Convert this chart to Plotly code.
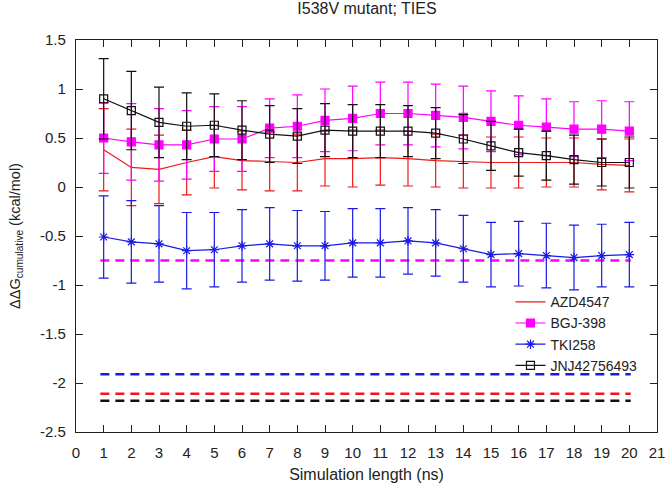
import plotly.graph_objects as go

# simulation length (ns)
ns = list(range(1, 21))

azd4547 = [0.38, 0.20, 0.18, 0.25, 0.31, 0.27, 0.26, 0.25, 0.29, 0.29,
           0.30, 0.29, 0.27, 0.26, 0.25, 0.25, 0.25, 0.25, 0.23, 0.22]
azd4547_err = [0.42, 0.39, 0.35, 0.33, 0.32, 0.30, 0.30, 0.29, 0.28, 0.29,
               0.28, 0.28, 0.27, 0.27, 0.26, 0.26, 0.25, 0.25, 0.26, 0.27]

bgj398 = [0.50, 0.46, 0.43, 0.43, 0.49, 0.49, 0.60, 0.62, 0.68, 0.70,
          0.75, 0.75, 0.73, 0.71, 0.67, 0.63, 0.61, 0.59, 0.59, 0.57]
bgj398_err = [0.36, 0.39, 0.37, 0.35, 0.33, 0.33, 0.30, 0.32, 0.32, 0.33,
              0.32, 0.32, 0.32, 0.32, 0.31, 0.30, 0.29, 0.28, 0.29, 0.30]

tki258 = [-0.51, -0.56, -0.58, -0.65, -0.64, -0.60, -0.58, -0.60, -0.60, -0.57,
          -0.57, -0.55, -0.57, -0.63, -0.69, -0.68, -0.70, -0.72, -0.70, -0.69]
tki258_err = [0.42, 0.42, 0.39, 0.39, 0.38, 0.37, 0.37, 0.36, 0.35, 0.35,
              0.35, 0.34, 0.34, 0.34, 0.33, 0.33, 0.33, 0.33, 0.32, 0.33]

jnj42756493 = [0.90, 0.78, 0.66, 0.62, 0.63, 0.58, 0.54, 0.52, 0.58, 0.57,
               0.57, 0.57, 0.55, 0.49, 0.42, 0.35, 0.32, 0.28, 0.25, 0.25]
jnj42756493_err = [0.41, 0.40, 0.36, 0.34, 0.32, 0.30, 0.29, 0.28, 0.27, 0.27,
                   0.27, 0.26, 0.26, 0.25, 0.25, 0.24, 0.25, 0.25, 0.24, 0.26]

# reference (dashed) levels
ref_x = [0.88, 20.05]
ref_bgj398 = -0.75
ref_tki258 = -1.91
ref_azd4547 = -2.11
ref_jnj42756493 = -2.18

yticks = [1.5, 1, 0.5, 0, -0.5, -1, -1.5, -2, -2.5]
yticklabels = ["1.5", "1", "0.5", "0", "-0.5", "-1", "-1.5", "-2", "-2.5"]

RED = "#f01818"
PINK = "#ff00ff"
BLUE = "#1a1ae6"
BLACK = "#111111"
FONT = "Liberation Sans, Arial"

fig = go.Figure()

# dashed reference lines first (behind)
for lvl, col in [(ref_bgj398, PINK), (ref_tki258, BLUE),
                 (ref_azd4547, RED), (ref_jnj42756493, BLACK)]:
    fig.add_trace(go.Scatter(x=ref_x, y=[lvl, lvl], mode="lines", showlegend=False,
                             line=dict(color=col, width=2.5, dash="9px,6px"),
                             hoverinfo="skip"))

def add_series(y, err, name, col, symbol=None):
    fig.add_trace(go.Scatter(
        x=ns, y=y, name=name,
        mode="lines+markers" if symbol else "lines",
        line=dict(color=col, width=1.2),
        marker=dict(symbol=symbol, size=8, color=col,
                    line=dict(color=col, width=1.2)) if symbol else None,
        error_y=dict(type="data", array=err, visible=True, color=col,
                     thickness=1.2, width=5)))

add_series(azd4547, azd4547_err, "AZD4547", RED)
add_series(bgj398, bgj398_err, "BGJ-398", PINK, "square")
add_series(tki258, tki258_err, "TKI258", BLUE, "asterisk-open")
add_series(jnj42756493, jnj42756493_err, "JNJ42756493", BLACK, "square-open")

axis_common = dict(showline=True, linecolor="#222222", linewidth=1.3, mirror="ticks",
                   ticks="inside", ticklen=7, tickwidth=1.2, tickcolor="#222222",
                   showgrid=False, zeroline=False, ticklabeloverflow="allow",
                   automargin=False,
                   tickfont=dict(family=FONT, size=15, color="#222222"))

fig.update_xaxes(range=[0, 21], tickmode="linear", tick0=0, dtick=1, ticklabelstandoff=7,
                 title=dict(text="Simulation length (ns)", standoff=8,
                            font=dict(family=FONT, size=16, color="#222222")),
                 **axis_common)
fig.update_yaxes(range=[-2.5, 1.5], tickvals=yticks, ticktext=yticklabels, ticklabelstandoff=6,
                 title=dict(text="ΔΔG<sub>cumulative</sub> (kcal/mol)", standoff=15,
                            font=dict(family=FONT, size=14.5, color="#222222")),
                 **axis_common)

fig.update_layout(
    width=666, height=494,
    margin=dict(l=76, r=9, t=40, b=62, autoexpand=False),
    paper_bgcolor="white", plot_bgcolor="white",
    title=dict(text="I538V mutant; TIES", x=0.551, xanchor="center", y=0.995, yanchor="top",
               font=dict(family=FONT, size=16, color="#222222")),
    legend=dict(x=0.975, xanchor="right", y=0.372, yanchor="top",
                bgcolor="rgba(0,0,0,0)", tracegroupgap=0,
                font=dict(family=FONT, size=14, color="#222222")),
)

# drop the default body margin so the figure sits at the window's corner
fig.write_html("out.html", config={"displayModeBar": False},
               post_script="document.body.style.margin='0';")
